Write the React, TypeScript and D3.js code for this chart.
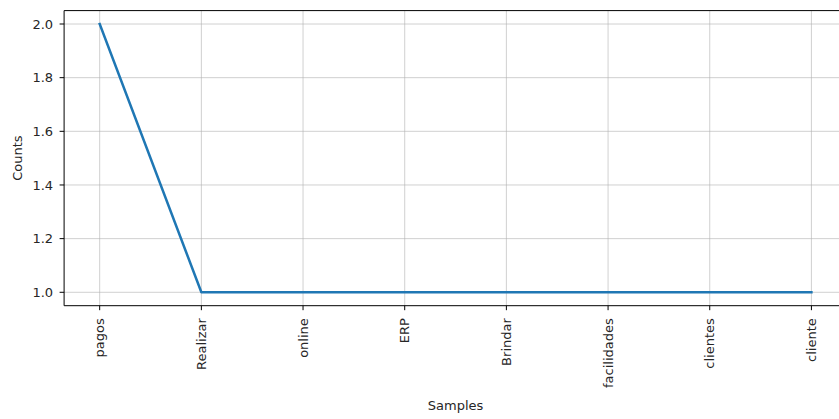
import React from "react";
import * as d3 from "d3";

const samples = ["pagos", "Realizar", "online", "ERP", "Brindar", "facilidades", "clientes", "cliente"];
const counts = [2, 1, 1, 1, 1, 1, 1, 1];
const yTicks = [1.0, 1.2, 1.4, 1.6, 1.8, 2.0];

export default function App() {
  const W = 839, H = 419;
  const left = 64.1, right = 847, top = 10.6, bottom = 305.7;
  const x = d3.scaleLinear().domain([-0.35, samples.length - 1 + 0.35]).range([left, right]);
  const y = d3.scaleLinear().domain([0.95, 2.05]).range([bottom, top]);
  const line = d3.line<number>().x((_, i) => x(i)).y((d) => y(d));
  const font = "DejaVu Sans, sans-serif";
  const textColor = "#262626";
  const fs = 13;
  return (
    <svg width={W} height={H} style={{ position: "fixed", left: 0, top: 0, background: "#fff" }} fontFamily={font}>
      <rect x={0} y={0} width={W} height={H} fill="#fff" />
      {samples.map((s, i) => (
        <line key={"gx" + i} x1={x(i)} x2={x(i)} y1={top} y2={bottom} stroke="#b0b0b0" strokeOpacity={0.6} strokeWidth={1} />
      ))}
      {yTicks.map((t) => (
        <line key={"gy" + t} x1={left} x2={right} y1={y(t)} y2={y(t)} stroke="#b0b0b0" strokeOpacity={0.6} strokeWidth={1} />
      ))}
      <path d={line(counts) || ""} fill="none" stroke="#1f77b4" strokeWidth={2.5} strokeLinejoin="round" strokeLinecap="square" />
      <line x1={left} x2={left} y1={top} y2={bottom} stroke="#000" strokeWidth={1} />
      <line x1={left} x2={right} y1={top} y2={top} stroke="#000" strokeWidth={1} />
      <line x1={left} x2={right} y1={bottom} y2={bottom} stroke="#000" strokeWidth={1} />
      {yTicks.map((t) => (
        <g key={"yt" + t}>
          <line x1={left - 4.5} x2={left} y1={y(t)} y2={y(t)} stroke="#000" strokeWidth={1} />
          <text x={left - 11} y={y(t)} dy="0.35em" textAnchor="end" fontSize={fs} fill={textColor}>
            {t.toFixed(1)}
          </text>
        </g>
      ))}
      {samples.map((s, i) => (
        <g key={"xt" + i}>
          <line x1={x(i)} x2={x(i)} y1={bottom} y2={bottom + 4.5} stroke="#000" strokeWidth={1} />
          <text
            transform={`translate(${x(i)},${bottom + 12.5}) rotate(-90)`}
            textAnchor="end"
            dy="0.35em"
            fontSize={fs}
            fill={textColor}
          >
            {s}
          </text>
        </g>
      ))}
      <text x={(left + right) / 2} y={410} textAnchor="middle" fontSize={fs} fill={textColor}>
        Samples
      </text>
      <text transform={`translate(17,${(top + bottom) / 2}) rotate(-90)`} textAnchor="middle" dy="0.35em" fontSize={fs} fill={textColor}>
        Counts
      </text>
    </svg>
  );
}
